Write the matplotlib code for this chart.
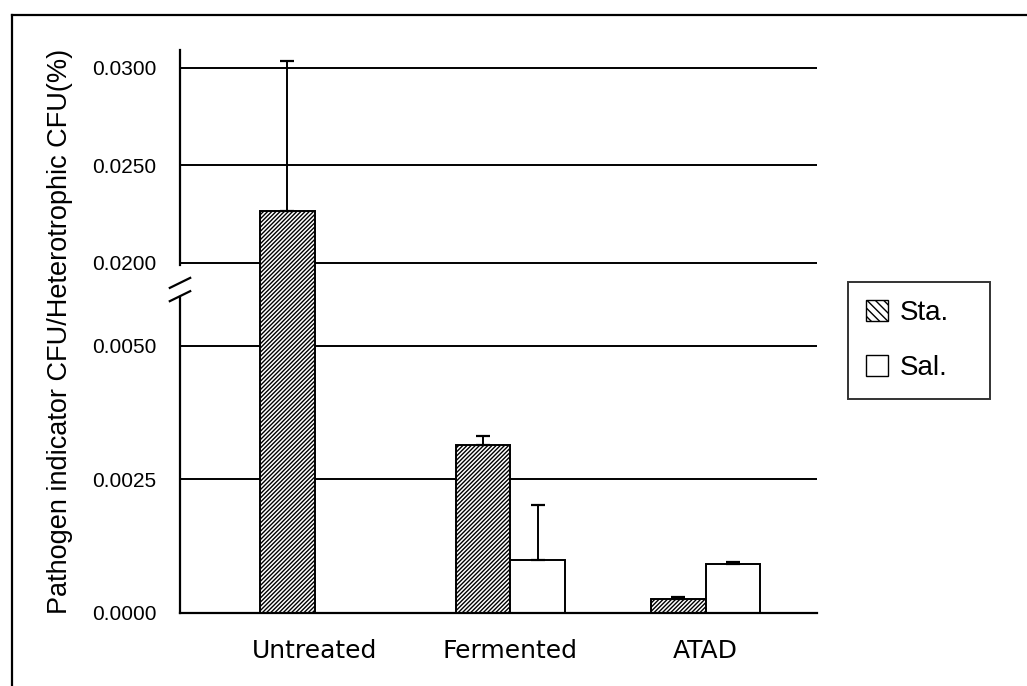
import numpy as np
import matplotlib
matplotlib.use("Agg")
import matplotlib.pyplot as plt
from matplotlib.lines import Line2D
from matplotlib.patches import Patch

categories = ["Untreated", "Fermented", "ATAD"]
sta_values = [0.02268, 0.00315, 0.00026]
sta_errors = [0.0077, 0.00017, 0.00004]
sal_values = [0.0, 0.00099, 0.00091]
sal_errors = [0.0, 0.00104, 0.00004]
series_labels = ["Sta.", "Sal."]
ytick_values = [0.0, 0.0025, 0.005, 0.02, 0.025, 0.03]
ytick_labels = ["0.0000", "0.0025", "0.0050", "0.0200", "0.0250", "0.0300"]

# broken-axis piecewise-linear scale
brk_vals = np.array([0.0, 0.005, 0.02, 0.03, 0.04])
brk_pos = np.array([0.0, 267.0, 350.0, 545.0, 740.0])

def fwd(v):
    return np.interp(v, brk_vals, brk_pos, left=-1e3, right=1e4)

def inv(p):
    return np.interp(p, brk_pos, brk_vals)

fig = plt.figure(figsize=(10.27, 6.86), dpi=100)
ax = fig.add_axes([180 / 1027, 1 - 613 / 686, 637 / 1027, 563 / 686])
ax.set_yscale("function", functions=(fwd, inv))
ax.set_ylim(0, 0.03092)
x = np.arange(len(categories))
w = 0.28
ax.set_xlim(-0.69, 2.57)

for yv in ytick_values[1:]:
    ax.axhline(yv, color="black", lw=1.4, zorder=1)

plt.rcParams["hatch.linewidth"] = 1.0
ax.bar(x - w / 2, sta_values, w, color="white", edgecolor="black", hatch="////////",
       lw=1.4, zorder=2)
ax.bar(x + w / 2, sal_values, w, color="white", edgecolor="black", lw=1.4, zorder=2)
ax.errorbar(x - w / 2, sta_values, yerr=[np.zeros(3), sta_errors], fmt="none",
            ecolor="black", elinewidth=1.4, capsize=5, capthick=1.6, zorder=3)
sal_mask = np.array(sal_values) > 0
ax.errorbar((x + w / 2)[sal_mask], np.array(sal_values)[sal_mask],
            yerr=[np.zeros(sal_mask.sum()), np.array(sal_errors)[sal_mask]], fmt="none",
            ecolor="black", elinewidth=1.4, capsize=5, capthick=1.6, zorder=3)

for s in ["top", "right", "left"]:
    ax.spines[s].set_visible(False)
ax.spines["bottom"].set_linewidth(1.6)

# broken left spine
yt = ax.get_yaxis_transform()
ax.plot([0, 0], [0, 0.0139], transform=yt, color="black", lw=1.6, clip_on=False, zorder=4)
ax.plot([0, 0], [0.0196, 0.03092], transform=yt, color="black", lw=1.6, clip_on=False, zorder=4)
for yb in (0.0164, 0.0140):
    p = fwd(yb)
    ax.plot([-0.016, 0.016], [inv(p - 5), inv(p + 5)], transform=yt, color="black",
            lw=1.6, clip_on=False, zorder=4)

ax.set_yticks(ytick_values)
ax.set_yticklabels(ytick_labels, fontsize=15, family="Liberation Sans")
ax.tick_params(axis="y", length=0, pad=17)
ax.set_xticks(x)
ax.set_xticklabels(categories, fontsize=18, family="DejaVu Sans")
ax.tick_params(axis="x", length=0, pad=19)
ax.set_ylabel("Pathogen indicator CFU/Heterotrophic CFU(%)", fontsize=19.5,
              family="Liberation Sans")
ax.yaxis.set_label_coords(-0.168, 0.5)

handles = [Patch(facecolor="white", edgecolor="black", hatch="\\\\\\\\"),
           Patch(facecolor="white", edgecolor="black")]
leg = fig.legend(handles, series_labels, loc="upper left", mode="expand",
                 bbox_to_anchor=(848 / 1027, 1 - 397 / 686, 142 / 1027, 115 / 686),
                 frameon=True, fancybox=False, edgecolor="black",
                 prop={"family": "Liberation Sans", "size": 20},
                 handlelength=0.8, handleheight=0.8, handletextpad=0.45,
                 borderpad=0.63, labelspacing=1.05, borderaxespad=0)
leg.get_frame().set_linewidth(1.4)

# outer border (top and left)
fig.add_artist(Line2D([12 / 1027, 1.0], [1 - 15 / 686, 1 - 15 / 686], color="black", lw=1.6))
fig.add_artist(Line2D([12 / 1027, 12 / 1027], [0.0, 1 - 15 / 686], color="black", lw=1.6))

fig.savefig("out.png", dpi=100)
